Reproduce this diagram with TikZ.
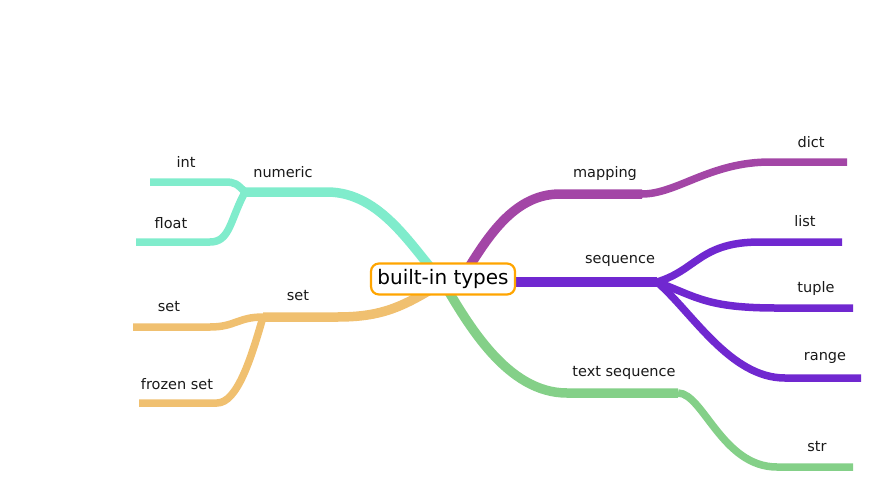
\documentclass[tikz,border=0pt]{standalone}
\usepackage{fontspec}
\setmainfont{DejaVu Sans}
\definecolor{numc}{RGB}{128,236,204}
\definecolor{setc}{RGB}{240,192,112}
\definecolor{mapc}{RGB}{163,70,166}
\definecolor{seqc}{RGB}{112,40,208}
\definecolor{txtc}{RGB}{132,208,136}
\definecolor{rootc}{RGB}{255,165,0}
\tikzset{
  mainline/.style={line width=9.5pt, line cap=butt, line join=round},
  leafline/.style={line width=7.5pt, line cap=butt, line join=round},
  lbl/.style={font=\fontsize{14.5}{17}\selectfont, text=black!90, inner sep=0pt},
  root/.style={draw=rootc, line width=2.2pt, rounded corners=8pt, fill=white,
    minimum width=144pt, minimum height=31pt, inner sep=0pt,
    font=\fontsize{20}{24}\selectfont}
}
\begin{document}
\begin{tikzpicture}[x=1pt,y=-1pt]
\useasboundingbox (0,0) rectangle (886,496);
% coordinates
\coordinate (c) at (443,282);
\coordinate (cm) at (458,285);
\coordinate (num) at (327,192); \coordinate (numL) at (245,192);
\coordinate (intR) at (225,182); \coordinate (intL) at (150,182);
\coordinate (floatR) at (210,242); \coordinate (floatL) at (136,242);
\coordinate (setM) at (337,317); \coordinate (setL) at (263,317);
\coordinate (setR) at (210,327); \coordinate (setE) at (133,327);
\coordinate (fsR) at (217,403); \coordinate (fsE) at (139,403);
\coordinate (map) at (560,194); \coordinate (mapR) at (642,194);
\coordinate (dictL) at (770,162); \coordinate (dictR) at (847,162);
\coordinate (seqR) at (657,282);
\coordinate (listL) at (760,242); \coordinate (listR) at (842,242);
\coordinate (tupL) at (777,308); \coordinate (tupR) at (853,308);
\coordinate (rngL) at (785,378); \coordinate (rngR) at (861,378);
\coordinate (txt) at (567,393); \coordinate (txtR) at (678,393);
\coordinate (strL) at (777,467); \coordinate (strR) at (853,467);
% numeric
\draw[numc, leafline] (numL) .. controls +(-8,-8) and +(10,0) .. (intR) -- (intL);
\draw[numc, leafline] (numL) .. controls +(-15,28) and +(20,0) .. (floatR) -- (floatL);
\draw[numc, mainline] (c) .. controls +(-30,-32) and +(55,0) .. (num) -- (numL);
% set
\draw[setc, leafline] (setL) .. controls +(-25,0) and +(25,0) .. (setR) -- (setE);
\draw[setc, leafline] (setL) .. controls +(-12,42) and +(20,0) .. (fsR) -- (fsE);
\draw[setc, mainline] (c) .. controls +(-40,25) and +(45,0) .. (setM) -- (setL);
% mapping
\draw[mapc, leafline] (mapR) .. controls +(35,0) and +(-60,0) .. (dictL) -- (dictR);
\draw[mapc, mainline] (cm) .. controls +(25,-40) and +(-50,0) .. (map) -- (mapR);
% sequence
\draw[seqc, leafline] (seqR) .. controls +(40,-12) and +(-60,0) .. (listL) -- (listR);
\draw[seqc, leafline] (seqR) .. controls +(40,15) and +(-70,0) .. (tupL) -- (tupR);
\draw[seqc, leafline] (seqR) .. controls +(35,30) and +(-55,0) .. (rngL) -- (rngR);
\draw[seqc, mainline] (c) -- (seqR);
% text sequence
\draw[txtc, leafline] (txtR) .. controls +(25,0) and +(-55,0) .. (strL) -- (strR);
\draw[txtc, mainline] (c) .. controls +(25,42) and +(-60,0) .. (txt) -- (txtR);
% root
\node[root] (rootn) at (443,279) {built-in types};
% labels
\node[lbl] (lnum) at (283,172) {numeric};
\node[lbl] (lint) at (186,162) {int};
\node[lbl] (lfloat) at (171,223) {float};
\node[lbl] (lset) at (298,296) {set};
\node[lbl] (lset2) at (169,307) {set};
\node[lbl] (lfs) at (177,384) {frozen set};
\node[lbl] (lmap) at (605,173) {mapping};
\node[lbl] (ldict) at (811,142) {dict};
\node[lbl] (lseq) at (620,261) {sequence};
\node[lbl] (llist) at (805,221) {list};
\node[lbl] (ltup) at (816,288) {tuple};
\node[lbl] (lrng) at (825,358) {range};
\node[lbl] (ltxt) at (624,373) {text sequence};
\node[lbl] (lstr) at (817,447) {str};
\end{tikzpicture}
\end{document}
